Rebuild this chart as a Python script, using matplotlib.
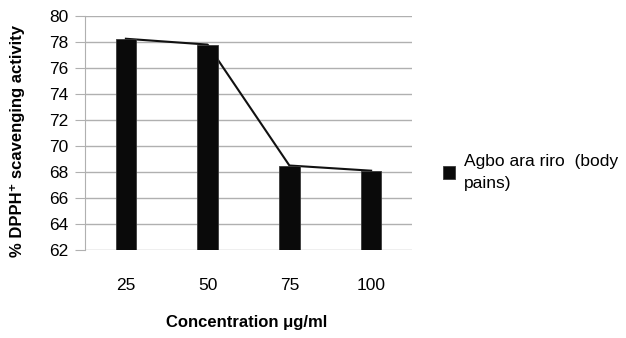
import matplotlib
matplotlib.use("Agg")
import matplotlib.pyplot as plt

plt.rcParams['font.family'] = ['Liberation Sans', 'DejaVu Sans']

# data
concentrations = ['25', '50', '75', '100']
scavenging = [78.25, 77.8, 68.5, 68.1]
series_name = 'Agbo ara riro  (body\npains)'
y_ticks = [62, 64, 66, 68, 70, 72, 74, 76, 78, 80]

fig = plt.figure(figsize=(6.26, 3.38), dpi=100)
ax = fig.add_axes([85/626, 88/338, 327/626, 234/338])

x = range(len(concentrations))
# line joining the bar tops, drawn behind the bars
ax.plot(x, scavenging, color='#111111', lw=1.5, zorder=2)
bars = ax.bar(x, scavenging, width=0.25, color='#0a0a0a', edgecolor='#3a3a3a',
              lw=0.6, zorder=3, label=series_name)

ax.set_ylim(62, 80)
ax.set_xlim(-0.5, len(concentrations) - 0.5)
ax.set_yticks(y_ticks)
ax.set_xticks(list(x))
ax.set_xticklabels(concentrations)
ax.yaxis.grid(True, color='#b0b0b0', lw=1.0, zorder=0)
ax.set_axisbelow(True)

for s in ['top', 'right', 'bottom']:
    ax.spines[s].set_visible(False)
ax.spines['left'].set_color('#b0b0b0')
ax.tick_params(axis='y', length=7, color='#b0b0b0', labelsize=12.5, pad=5)
ax.tick_params(axis='x', length=0, labelsize=12.5, pad=20)

fig.text(247/626, 1 - 322/338, 'Concentration \u03bcg/ml', ha='center', va='center',
         fontsize=12, fontweight='bold')
fig.text(18/626, 1 - 141/338, '% DPPH\u207a scavenging activity', ha='center', va='center',
         rotation=90, fontsize=12, fontweight='bold')

leg = ax.legend(loc='upper left', bbox_to_anchor=(436/626, 1 - 147/338),
                bbox_transform=fig.transFigure, frameon=False, fontsize=12.5,
                handlelength=0.7, handleheight=0.7, handletextpad=0.5,
                borderaxespad=0)
leg.get_texts()[0].set_linespacing(1.6)

fig.savefig('out.png', dpi=100)
